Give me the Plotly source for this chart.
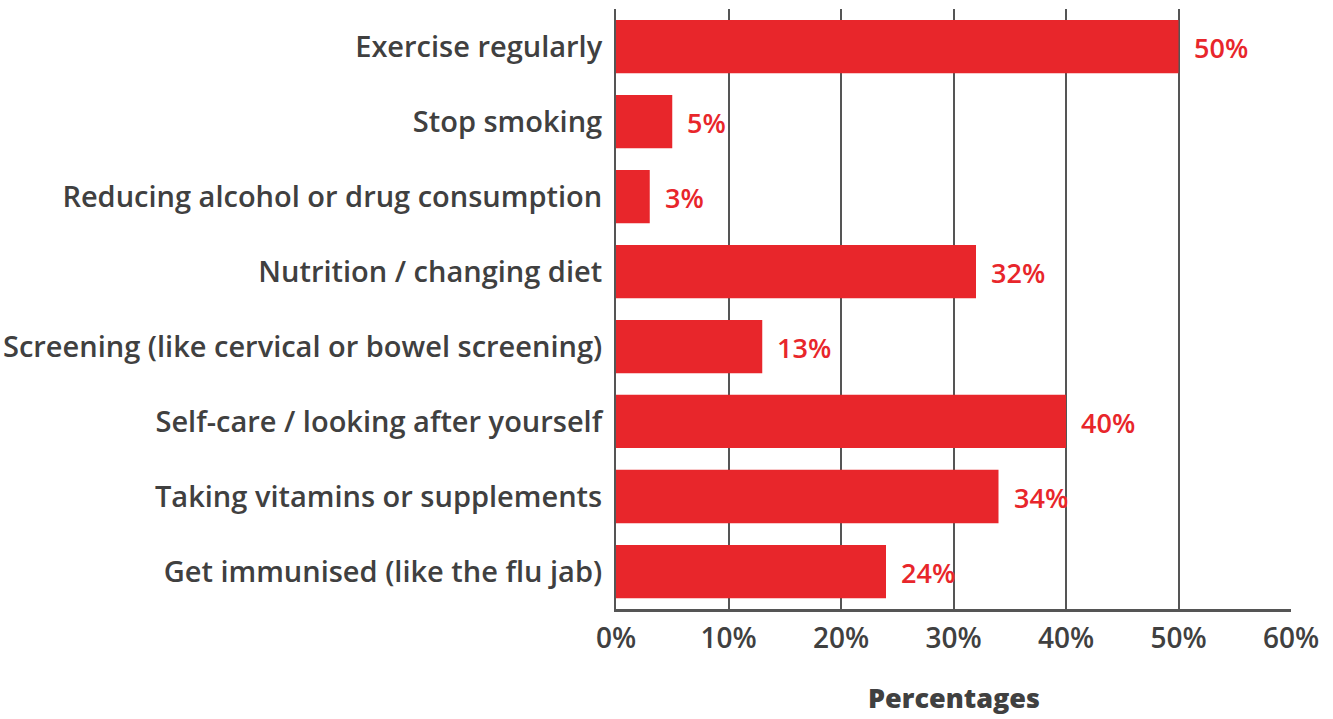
import plotly.graph_objects as go

categories = [
    "Exercise regularly",
    "Stop smoking",
    "Reducing alcohol or drug consumption",
    "Nutrition / changing diet",
    "Screening (like cervical or bowel screening)",
    "Self-care / looking after yourself",
    "Taking vitamins or supplements",
    "Get immunised (like the flu jab)",
]
values = [50, 5, 3, 32, 13, 40, 34, 24]
tick_vals = [0, 10, 20, 30, 40, 50, 60]
tick_text = ["0%", "10%", "20%", "30%", "40%", "50%", "60%"]

RED = "#E8262B"
GREY = "#404040"
FONT = "Open Sans"

fig = go.Figure(
    go.Bar(
        x=values,
        y=categories,
        orientation="h",
        marker=dict(color=RED, line=dict(width=0)),
        hoverinfo="skip",
    )
)

# value labels beside each bar
for cat, v in zip(categories, values):
    fig.add_annotation(
        x=v, y=cat, text=f"{v}%", showarrow=False,
        xanchor="left", yanchor="middle", xshift=13, yshift=-1,
        font=dict(family=FONT, size=27, color=RED, weight=600),
    )

# axis title below tick labels
fig.add_annotation(
    x=0.5, y=0, xref="paper", yref="paper", yshift=-88,
    text="Percentages", showarrow=False, xanchor="center", yanchor="middle",
    font=dict(family=FONT, size=27, color=GREY, weight=800),
)

fig.update_layout(
    width=1333, height=719,
    margin=dict(l=616, r=42, t=9, b=110),
    paper_bgcolor="white", plot_bgcolor="white",
    bargap=0.29,
    showlegend=False,
    font=dict(family=FONT, color=GREY),
    xaxis=dict(
        range=[0, 60], tickvals=tick_vals, ticktext=tick_text,
        showgrid=True, gridcolor="#555555", gridwidth=2,
        zeroline=False, showline=True, linecolor="#555555", linewidth=3,
        ticks="", ticklabelstandoff=2, automargin=False,
        tickfont=dict(family=FONT, size=28, color=GREY, weight=600),
        fixedrange=True,
    ),
    yaxis=dict(
        autorange="reversed", showgrid=False, zeroline=False,
        showline=True, linecolor="#555555", linewidth=2,
        ticks="", ticklabelstandoff=6, automargin=False,
        tickfont=dict(family=FONT, size=29, color=GREY, weight=600),
        fixedrange=True,
    ),
)

fig.write_html("out.html")
